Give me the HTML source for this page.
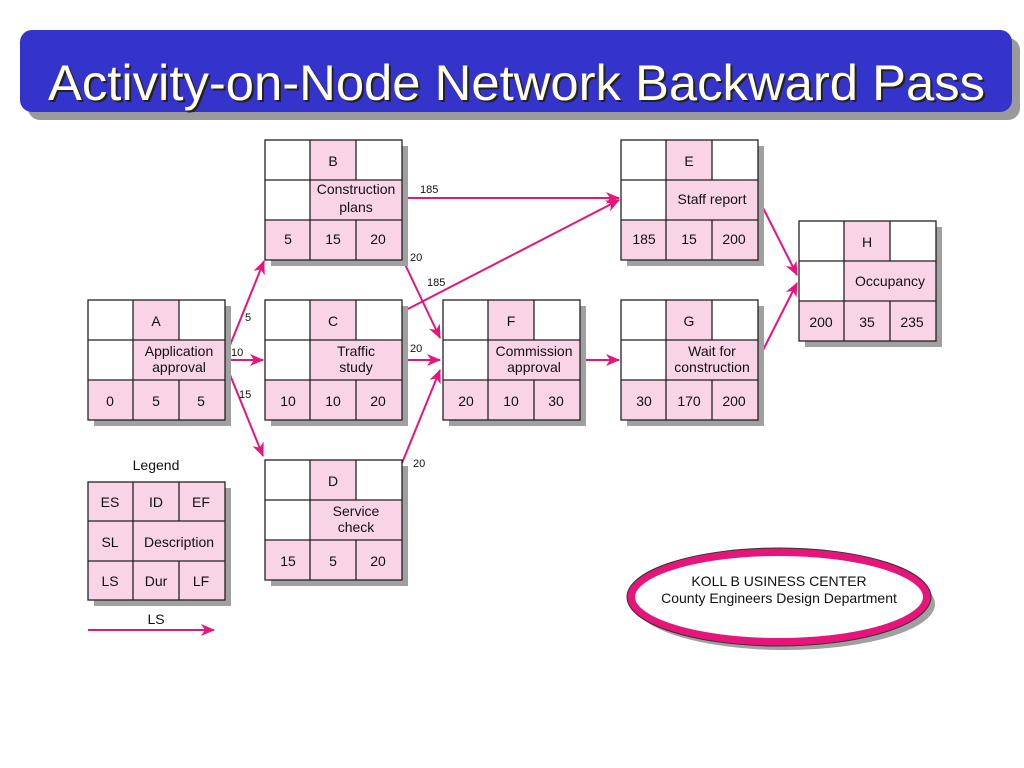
<!DOCTYPE html>
<html><head><meta charset="utf-8"><style>
body{margin:0;background:#fff;}
svg{display:block;}
text{font-family:"Liberation Sans",Arial,sans-serif;fill:#111;}
</style></head><body>
<svg width="1024" height="768" viewBox="0 0 1024 768" xmlns="http://www.w3.org/2000/svg">
<defs>
<g id="nd">
<rect x="6" y="6" width="137" height="120" fill="#a0a0a0"/>
<rect x="0" y="0" width="137" height="120" fill="#fff"/>
<rect x="45" y="0" width="46" height="40" fill="#f9d3e6"/>
<rect x="45" y="40" width="92" height="40" fill="#f9d3e6"/>
<rect x="0" y="80" width="137" height="40" fill="#f9d3e6"/>
<g stroke="#222" stroke-width="1.3" fill="none">
<rect x="0" y="0" width="137" height="120"/>
<line x1="0" y1="40" x2="137" y2="40"/><line x1="0" y1="80" x2="137" y2="80"/>
<line x1="45" y1="0" x2="45" y2="120"/>
<line x1="91" y1="0" x2="91" y2="40"/><line x1="91" y1="80" x2="91" y2="120"/>
</g>
</g>
<marker id="ah" markerWidth="14" markerHeight="12" refX="13" refY="6" orient="auto" markerUnits="userSpaceOnUse">
<path d="M0,0 L14,6 L0,12 L4,6 z" fill="#e6157a"/>
</marker>
</defs>

<!-- title -->
<rect x="28" y="38" width="992" height="82" rx="12" fill="#9a9a9a"/>
<rect x="20" y="30" width="992" height="82" rx="12" fill="#3434cc"/>
<text x="50" y="102" font-size="50" textLength="937" lengthAdjust="spacingAndGlyphs" style="fill:#222">Activity-on-Node Network Backward Pass</text>
<text x="48" y="100" font-size="50" textLength="937" lengthAdjust="spacingAndGlyphs" style="fill:#ffffec">Activity-on-Node Network Backward Pass</text>

<!-- arrows -->
<g stroke="#e6157a" stroke-width="2" fill="none" marker-end="url(#ah)">
<line x1="224" y1="360" x2="264" y2="261"/>
<line x1="224" y1="360" x2="263" y2="360"/>
<line x1="224" y1="360" x2="263" y2="456"/>
<line x1="402" y1="198" x2="619" y2="198"/>
<line x1="402" y1="258" x2="440" y2="338"/>
<line x1="402" y1="312" x2="619" y2="200"/>
<line x1="402" y1="360" x2="440" y2="360"/>
<line x1="402" y1="463" x2="440" y2="370"/>
<line x1="580" y1="360" x2="619" y2="360"/>
<line x1="758" y1="198" x2="797" y2="275"/>
<line x1="758" y1="360" x2="797" y2="283"/>
<line x1="88" y1="630" x2="214" y2="630"/>
</g>
<g font-size="11">
<text x="245" y="321">5</text>
<text x="231" y="356">10</text>
<text x="239" y="398">15</text>
<text x="420" y="193">185</text>
<text x="410" y="261">20</text>
<text x="427" y="286">185</text>
<text x="410" y="352">20</text>
<text x="413" y="467">20</text>
</g>

<!-- nodes -->
<g font-size="14" text-anchor="middle">
<use href="#nd" x="88" y="300"/>
<text x="156" y="326">A</text><text x="179" y="356">Application</text><text x="179" y="372">approval</text>
<text x="110" y="406">0</text><text x="156" y="406">5</text><text x="201" y="406">5</text>

<use href="#nd" x="265" y="140"/>
<text x="333" y="166">B</text><text x="356" y="194">Construction</text><text x="356" y="212">plans</text>
<text x="288" y="244">5</text><text x="333" y="244">15</text><text x="378" y="244">20</text>

<use href="#nd" x="265" y="300"/>
<text x="333" y="326">C</text><text x="356" y="356">Traffic</text><text x="356" y="372">study</text>
<text x="288" y="406">10</text><text x="333" y="406">10</text><text x="378" y="406">20</text>

<use href="#nd" x="265" y="460"/>
<text x="333" y="486">D</text><text x="356" y="516">Service</text><text x="356" y="532">check</text>
<text x="288" y="566">15</text><text x="333" y="566">5</text><text x="378" y="566">20</text>

<use href="#nd" x="443" y="300"/>
<text x="511" y="326">F</text><text x="534" y="356">Commission</text><text x="534" y="372">approval</text>
<text x="466" y="406">20</text><text x="511" y="406">10</text><text x="556" y="406">30</text>

<use href="#nd" x="621" y="140"/>
<text x="689" y="166">E</text><text x="712" y="204">Staff report</text>
<text x="644" y="244">185</text><text x="689" y="244">15</text><text x="734" y="244">200</text>

<use href="#nd" x="621" y="300"/>
<text x="689" y="326">G</text><text x="712" y="356">Wait for</text><text x="712" y="372">construction</text>
<text x="644" y="406">30</text><text x="689" y="406">170</text><text x="734" y="406">200</text>

<use href="#nd" x="799" y="221"/>
<text x="867" y="247">H</text><text x="890" y="286">Occupancy</text>
<text x="821" y="327">200</text><text x="867" y="327">35</text><text x="912" y="327">235</text>

<!-- legend -->
<text x="156" y="470">Legend</text>
<rect x="94" y="488" width="137" height="118" fill="#a0a0a0"/>
<rect x="88" y="482" width="137" height="118" fill="#f9d3e6" stroke="#222" stroke-width="1.3"/>
<g stroke="#222" stroke-width="1.3">
<line x1="88" y1="521" x2="225" y2="521"/><line x1="88" y1="561" x2="225" y2="561"/>
<line x1="133" y1="482" x2="133" y2="600"/>
<line x1="179" y1="482" x2="179" y2="521"/><line x1="179" y1="561" x2="179" y2="600"/>
</g>
<text x="110" y="507">ES</text><text x="156" y="507">ID</text><text x="201" y="507">EF</text>
<text x="110" y="547">SL</text><text x="179" y="547">Description</text>
<text x="110" y="586">LS</text><text x="156" y="586">Dur</text><text x="201" y="586">LF</text>
<text x="156" y="624">LS</text>
</g>

<!-- ellipse -->
<ellipse cx="785" cy="604" rx="150" ry="46" fill="#a0a0a0"/>
<ellipse cx="779" cy="597" rx="148" ry="45" fill="#fff" stroke="#e6157a" stroke-width="8"/>
<ellipse cx="779" cy="597" rx="152" ry="49" fill="none" stroke="#333" stroke-width="1"/>
<g font-size="14" text-anchor="middle">
<text x="779" y="586">KOLL B USINESS CENTER</text>
<text x="779" y="603">County Engineers Design Department</text>
</g>
</svg>
</body></html>
